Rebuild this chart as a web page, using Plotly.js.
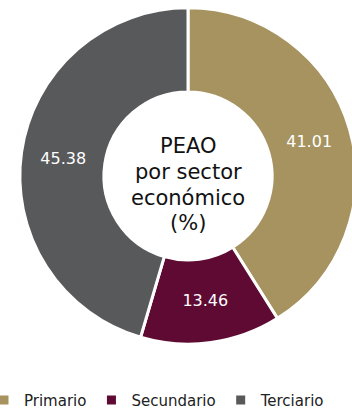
<!DOCTYPE html>
<html>
<head>
<meta charset="utf-8">
<script src="https://cdn.plot.ly/plotly-3.0.1.min.js"></script>
<style>
html, body { margin: 0; padding: 0; overflow: hidden; background: #ffffff; width: 352px; height: 417px; }
#chart { position: absolute; left: -16px; top: 0; width: 392px; height: 417px; }
</style>
</head>
<body>
<div id="chart"></div>
<script>
const categories = ["Primario", "Secundario", "Terciario"];
const values = [41.01, 13.46, 45.38];
const colors = ["#A6935F", "#5E0A33", "#58595B"];
const centerLines = ["PEAO", "por sector", "económico", "(%)"];

const W = 392, H = 417, OFF = 16;
const cx = 188 + OFF, cy = 179, R = 171;

const trace = {
  type: "pie",
  labels: categories,
  values: values,
  text: values.map(v => v.toFixed(2)),
  textinfo: "text",
  textposition: "inside",
  insidetextorientation: "horizontal",
  hole: 0.5,
  sort: false,
  direction: "clockwise",
  rotation: 0,
  marker: { colors: colors, line: { color: "#ffffff", width: 3 } },
  textfont: { family: "DejaVu Sans", size: 16, color: "#ffffff" },
  domain: { x: [(cx - R) / W, (cx + R) / W], y: [1 - (cy + R) / H, 1 - (cy - R) / H] },
  hoverinfo: "label+value"
};

const lineY = [148, 175, 201, 227];
const annotations = centerLines.map((t, i) => ({
  text: t,
  x: cx / W, y: 1 - lineY[i] / H,
  xref: "paper", yref: "paper",
  xanchor: "center", yanchor: "middle",
  showarrow: false,
  font: { family: "DejaVu Sans", size: 21, color: "#111111" }
}));

const layout = {
  width: W,
  height: H,
  margin: { l: 0, r: 0, t: 0, b: 0 },
  paper_bgcolor: "#ffffff",
  showlegend: true,
  legend: {
    orientation: "h",
    x: 0,
    xanchor: "left",
    y: 1 - 407 / H,
    yanchor: "middle",
    font: { family: "DejaVu Sans", size: 15, color: "#222222" },
    itemwidth: 30
  },
  annotations: annotations
};

Plotly.newPlot("chart", [trace], layout, { displayModeBar: false, staticPlot: true });
</script>
</body>
</html>
